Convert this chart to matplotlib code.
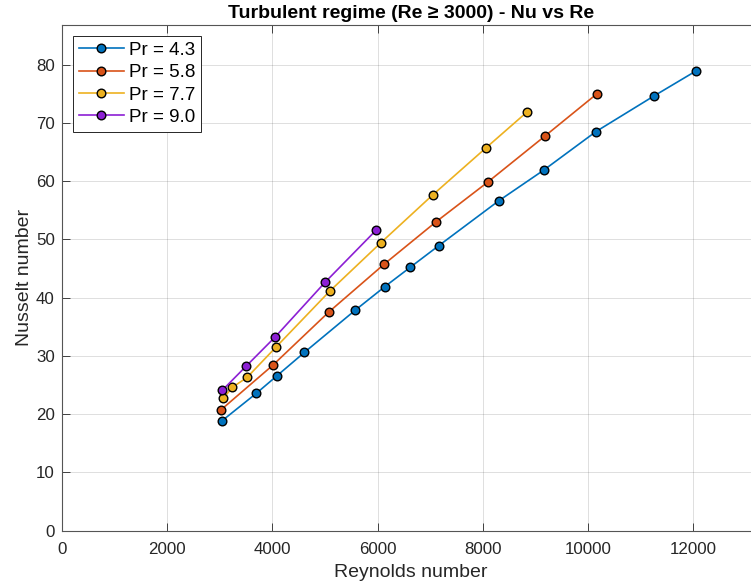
import matplotlib
matplotlib.use('Agg')
import matplotlib.pyplot as plt

plt.rcParams['font.family'] = ['Liberation Sans', 'DejaVu Sans']

# Reynolds / Nusselt values per Prandtl number
re_43 = [3050, 3700, 4090, 4610, 5570, 6140, 6620, 7160, 8300, 9160, 10150, 11250, 12050]
nu_43 = [18.9, 23.6, 26.6, 30.6, 37.8, 41.9, 45.2, 48.9, 56.6, 61.9, 68.5, 74.6, 78.9]

re_58 = [3020, 4010, 5070, 6120, 7110, 8090, 9190, 10170]
nu_58 = [20.7, 28.4, 37.5, 45.7, 53.0, 59.8, 67.8, 75.0]

re_77 = [3070, 3240, 3520, 4080, 5090, 6060, 7045, 8060, 8845]
nu_77 = [22.7, 24.6, 26.3, 31.6, 41.1, 49.4, 57.6, 65.7, 71.9]

re_90 = [3050, 3510, 4060, 5010, 5975]
nu_90 = [24.1, 28.3, 33.3, 42.7, 51.6]

labels = ['Pr = 4.3', 'Pr = 5.8', 'Pr = 7.7', 'Pr = 9.0']
colors = ['#0072BD', '#D95319', '#EDB120', '#8C1FD4']

fig = plt.figure(figsize=(7.51, 5.88), dpi=100)
ax = fig.add_axes([0.0822, 0.0974, 0.929, 0.8601])

series = [(re_43, nu_43), (re_58, nu_58), (re_77, nu_77), (re_90, nu_90)]
for (x, y), lab, c in zip(series, labels, colors):
    ax.plot(x, y, '-o', color=c, lw=1.2, ms=6.2, mfc=c, mec='black', mew=1.0, label=lab)

# limits set to 1.1 * max like the original
ax.set_xlim(0, 1.1 * max(re_43))
ax.set_ylim(0, 1.1 * max(nu_43))
ax.set_xticks(range(0, 13000, 2000))
ax.set_yticks(range(0, 90, 10))

ax.grid(True, color='#262626', alpha=0.15, lw=0.7)
ax.tick_params(direction='in', length=6, width=0.6, colors='#262626',
               labelsize=12.2, top=True, right=False, pad=5)
ax.tick_params(axis='x', pad=8)
for s in ['left', 'bottom', 'top']:
    ax.spines[s].set_color('#555555')
    ax.spines[s].set_linewidth(0.8)
ax.spines['right'].set_visible(False)

ax.set_xlabel('Reynolds number', fontsize=14, color='#262626', labelpad=5)
ax.set_ylabel('Nusselt number', fontsize=14, color='#262626', labelpad=2)
ax.set_title('Turbulent regime (Re \u2265 3000) - Nu vs Re', fontsize=14,
             fontweight='bold', color='black', pad=5)

leg = ax.legend(loc='upper left', bbox_to_anchor=(0.0165, 0.978), fontsize=13.5,
                frameon=True, fancybox=False, framealpha=1, edgecolor='#262626',
                handlelength=2.4, handletextpad=0.3, borderpad=0.3,
                labelspacing=0.28, borderaxespad=0)
leg.get_frame().set_linewidth(0.7)

fig.savefig('out.png', dpi=100)
